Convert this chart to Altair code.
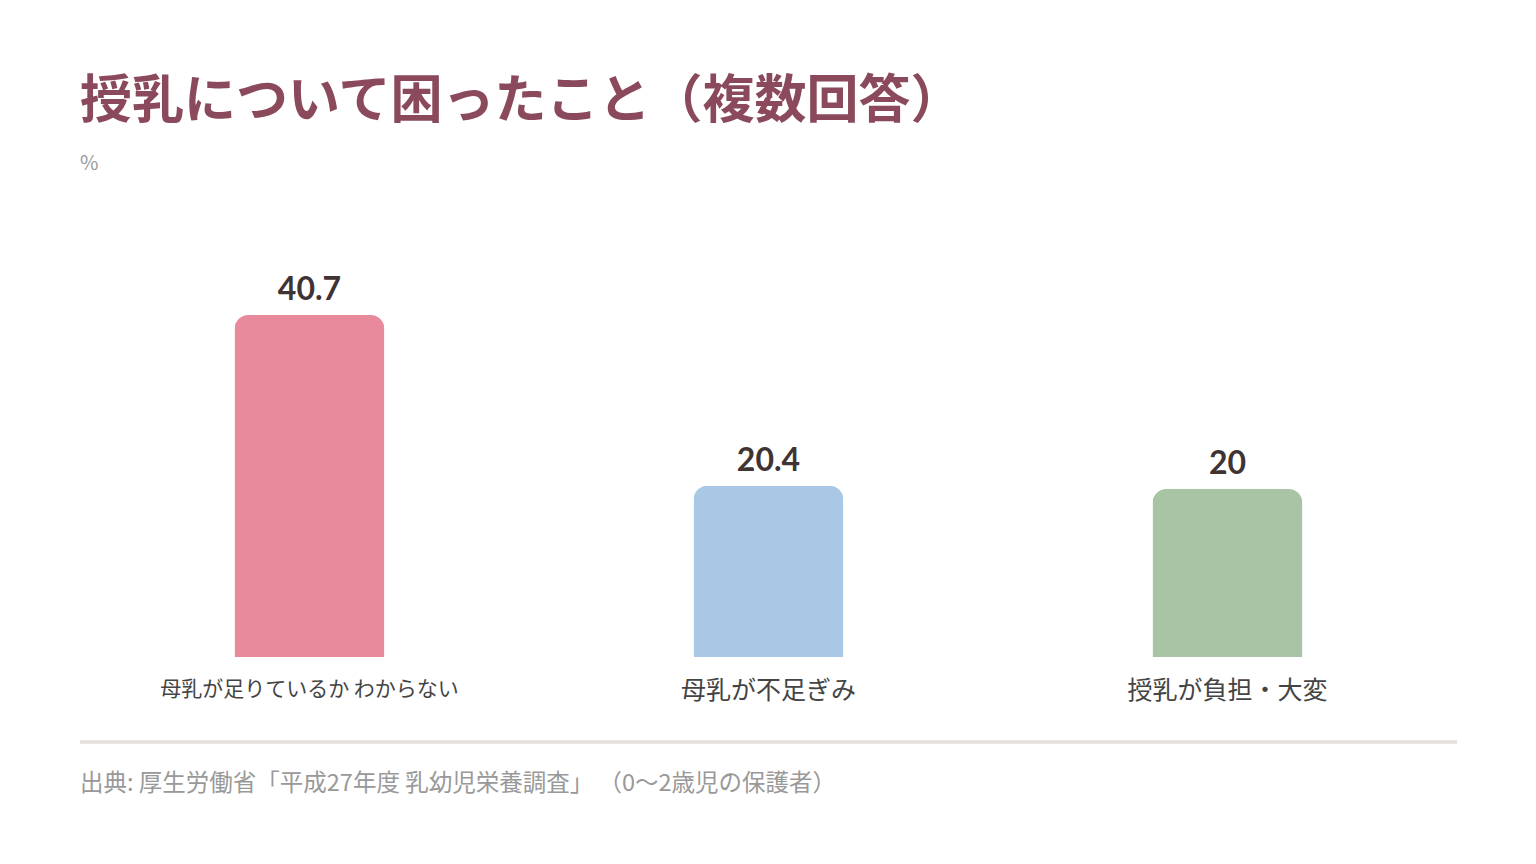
import altair as alt
import pandas as pd

# data
categories = ["母乳が足りているか わからない", "母乳が不足ぎみ", "授乳が負担・大変"]
values = [40.7, 20.4, 20]
colors = ["#E88A9C", "#A8C8E6", "#A8C4A4"]

title_text = "授乳について困ったこと（複数回答）"
unit_text = "%"
source_text = "出典: 厚生労働省「平成27年度 乳幼児栄養調査」 （0〜2歳児の保護者）"

df = pd.DataFrame({"cat": categories, "val": values, "color": colors})

W = 1377
H = 420
FONT = "Noto Sans CJK JP"

x_enc = alt.X(
    "cat:N",
    sort=categories,
    title=None,
    axis=alt.Axis(
        domain=False,
        ticks=False,
        labelAngle=0,
        labelPadding=21,
        labelFont=FONT,
        labelColor="#444444",
        labelFontSize={"condition": {"test": f"datum.value == '{categories[0]}'", "value": 21}, "value": 25},
        labelLimit=400,
    ),
)
y_enc = alt.Y("val:Q", scale=alt.Scale(domain=[0, 50]), axis=None)

bars = alt.Chart(df).mark_bar(
    size=150, cornerRadiusTopLeft=14, cornerRadiusTopRight=14
).encode(
    x=x_enc,
    y=y_enc,
    color=alt.Color("color:N", scale=None),
)

labels = alt.Chart(df).mark_text(
    dy=-8, baseline="bottom", font="Lato", fontWeight="bold", fontSize=32, color="#3F3333"
).encode(
    x=alt.X("cat:N", sort=categories),
    y="val:Q",
    text=alt.Text("val:Q"),
)

# separator line under the category labels
sep = alt.Chart(df).mark_rule(color="#E8E2DE", strokeWidth=3).encode(
    x=alt.value(0), x2=alt.value(W), y=alt.value(505)
)

source = alt.Chart(pd.DataFrame({"t": [source_text]})).mark_text(
    align="left", baseline="middle", font=FONT, fontSize=23.5, color="#999999"
).encode(x=alt.value(0), y=alt.value(547), text="t:N")

chart = alt.layer(bars, labels, sep, source).properties(
    width=W,
    height=H,
    autosize=alt.AutoSizeParams(type="none"),
    padding={"left": 72, "top": 229, "right": 70, "bottom": 170},
    title=alt.TitleParams(
        text=title_text,
        subtitle=unit_text,
        anchor="start",
        frame="group",
        font=FONT,
        fontSize=52,
        fontWeight="bold",
        color="#8B4A5C",
        subtitleFont=FONT,
        subtitleFontSize=20,
        subtitleColor="#999999",
        subtitlePadding=25,
        offset=62,
    ),
).configure_view(stroke=None)

chart.save("out.html", embed_options={"renderer": "svg", "actions": False})
